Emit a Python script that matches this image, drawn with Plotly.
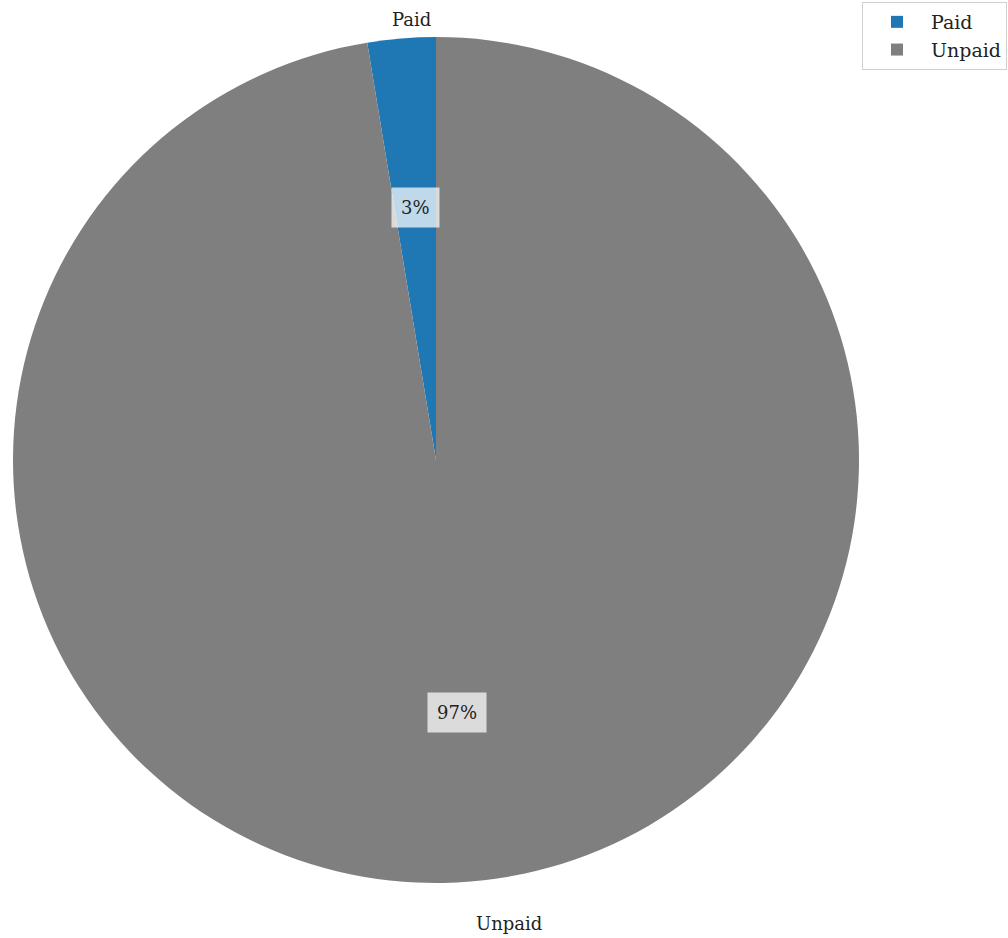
import math
import plotly.graph_objects as go

# Payment status shares (percent)
labels = ["Paid", "Unpaid"]
values = [2.6, 97.4]
colors = ["#1f77b4", "#7f7f7f"]
# radial placement of the category names, as a multiple of the pie radius
label_dist = [1.045, 1.10]
label_anchor = ["center", "left"]
label_shift = [12, 0]
pct_dist = 0.6

W, H = 1008, 938
cx, cy, R = 436, 460, 423  # pie centre and radius in pixels
FONT = "DejaVu Serif"
TEXT_SIZE = 18

total = sum(values)
# Paid sits just left of 12 o'clock: start the clockwise sweep one Paid-slice early
first_span = 360.0 * values[0] / total

fig = go.Figure(
    go.Pie(
        labels=labels,
        values=values,
        marker=dict(colors=colors, line=dict(width=0)),
        sort=False,
        direction="clockwise",
        rotation=-first_span,
        textinfo="none",
        hoverinfo="label+percent",
        domain=dict(x=[(cx - R) / W, (cx + R) / W],
                    y=[(H - cy - R) / H, (H - cy + R) / H]),
    )
)

# Text placed along each slice's mid-angle (slices run counterclockwise from 12 o'clock)
start = 90.0
annotations = []
for i, (lab, v) in enumerate(zip(labels, values)):
    span = 360.0 * v / total
    mid = math.radians(start + span / 2)
    start += span
    # category name outside
    lx = cx + label_dist[i] * R * math.cos(mid)
    ly = cy - label_dist[i] * R * math.sin(mid)
    annotations.append(dict(
        x=lx / W, y=1 - ly / H, xref="paper", yref="paper",
        text=lab, showarrow=False,
        xanchor=label_anchor[i], yanchor="middle", xshift=label_shift[i],
        font=dict(family=FONT, size=TEXT_SIZE, color="#222"),
    ))
    # percentage inside with a translucent box
    px = cx + pct_dist * R * math.cos(mid)
    py = cy - pct_dist * R * math.sin(mid)
    annotations.append(dict(
        x=px / W, y=1 - py / H, xref="paper", yref="paper",
        text=f"{round(100 * v / total)}%", showarrow=False,
        xanchor="center", yanchor="middle",
        font=dict(family=FONT, size=TEXT_SIZE, color="#222"),
        bgcolor="rgba(255,255,255,0.72)", borderpad=9,
    ))

fig.update_layout(
    width=W, height=H,
    margin=dict(l=0, r=0, t=0, b=0),
    paper_bgcolor="white",
    plot_bgcolor="white",
    annotations=annotations,
    legend=dict(
        x=862 / W, y=1 - 2 / H, xanchor="left", yanchor="top",
        bordercolor="#d0d0d0", borderwidth=1,
        font=dict(family=FONT, size=19, color="#222"),
        bgcolor="rgba(255,255,255,0.8)",
        itemwidth=58,
    ),
)

fig.write_html("out.html")
